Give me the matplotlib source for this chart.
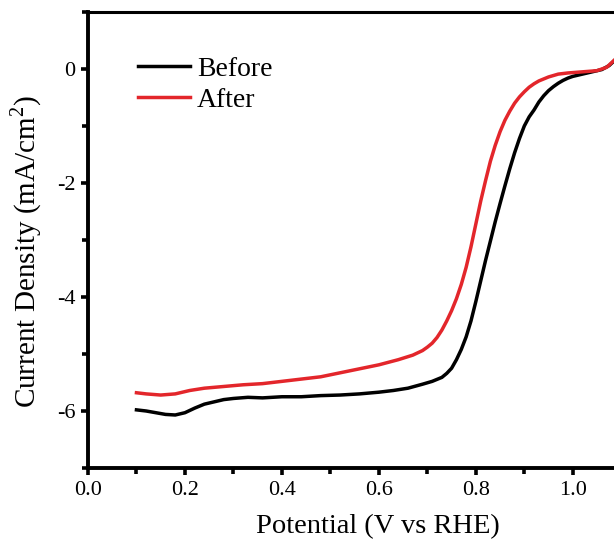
import matplotlib
matplotlib.use("Agg")
import matplotlib.pyplot as plt
from matplotlib.ticker import MultipleLocator

plt.rcParams['font.family'] = ['Liberation Serif', 'DejaVu Serif']
plt.rcParams['mathtext.fontset'] = 'custom'
plt.rcParams['mathtext.rm'] = 'Liberation Serif'

# LSV data
before_x = [0.10, 0.12, 0.14, 0.16, 0.18, 0.20, 0.22, 0.24, 0.26, 0.28, 0.30, 0.33,
            0.36, 0.40, 0.44, 0.48, 0.52, 0.56, 0.60, 0.63, 0.66, 0.69, 0.71, 0.73,
            0.74, 0.75, 0.76, 0.77, 0.78, 0.79, 0.80, 0.81, 0.82, 0.83, 0.84, 0.85,
            0.86, 0.87, 0.88, 0.89, 0.90, 0.91, 0.92, 0.93, 0.94, 0.95, 0.96, 0.97,
            0.98, 0.99, 1.00, 1.02, 1.04, 1.06, 1.075, 1.085]
before_y = [-5.98, -6.00, -6.03, -6.06, -6.07, -6.03, -5.95, -5.88, -5.84, -5.80, -5.78, -5.76,
            -5.77, -5.75, -5.75, -5.73, -5.72, -5.70, -5.67, -5.64, -5.60, -5.53, -5.48, -5.41,
            -5.34, -5.25, -5.10, -4.92, -4.70, -4.42, -4.08, -3.72, -3.36, -3.02, -2.68, -2.36,
            -2.05, -1.75, -1.47, -1.22, -1.00, -0.84, -0.72, -0.58, -0.47, -0.38, -0.31, -0.25,
            -0.20, -0.16, -0.13, -0.09, -0.05, -0.01, 0.06, 0.14]

after_x = [0.10, 0.12, 0.15, 0.18, 0.21, 0.24, 0.28, 0.32, 0.36, 0.40, 0.44, 0.48,
           0.52, 0.56, 0.60, 0.64, 0.67, 0.69, 0.70, 0.71, 0.72, 0.73, 0.74, 0.75,
           0.76, 0.77, 0.78, 0.79, 0.80, 0.81, 0.82, 0.83, 0.84, 0.85, 0.86, 0.87,
           0.88, 0.89, 0.90, 0.91, 0.92, 0.93, 0.95, 0.97, 0.99, 1.02, 1.05, 1.07,
           1.085]
after_y = [-5.68, -5.70, -5.72, -5.70, -5.64, -5.60, -5.57, -5.54, -5.52, -5.48, -5.44, -5.40,
           -5.33, -5.26, -5.19, -5.10, -5.02, -4.94, -4.88, -4.81, -4.71, -4.58, -4.42, -4.24,
           -4.03, -3.78, -3.48, -3.12, -2.72, -2.32, -1.96, -1.62, -1.34, -1.10, -0.90, -0.74,
           -0.60, -0.49, -0.40, -0.32, -0.26, -0.21, -0.14, -0.09, -0.07, -0.05, -0.03, 0.03,
           0.15]

fig = plt.figure(figsize=(6.14, 5.44), dpi=100)
ax = fig.add_axes([0.1433, 0.1397, 0.8567, 0.8383])

ax.plot(before_x, before_y, color='black', lw=2.5, label='Before')
ax.plot(after_x, after_y, color='#e3262b', lw=2.5, label='After')

ax.set_xlim(0.0, 1.085)
ax.set_ylim(-7, 1)
ax.xaxis.set_major_locator(MultipleLocator(0.2))
ax.xaxis.set_minor_locator(MultipleLocator(0.1))
ax.yaxis.set_minor_locator(MultipleLocator(1))
ax.set_yticks([0, -2, -4, -6])
ax.set_yticklabels(['0', '-2', '-4', '-6'])

for s in ['left', 'bottom']:
    ax.spines[s].set_linewidth(2.8)
ax.spines['top'].set_linewidth(2.2)
ax.spines['right'].set_visible(False)
ax.tick_params(which='both', direction='out', width=2.6, labelsize=16, top=False, right=False)
ax.tick_params(which='major', length=5, pad=4)
ax.tick_params(which='minor', length=4)

ax.set_xlabel('Potential (V vs RHE)', fontsize=20.5, va='center')
ax.xaxis.set_label_coords(0.551, -0.129)
ax.set_ylabel('Current Density (mA/cm$^2$)', fontsize=21, va='center')
ax.yaxis.set_label_coords(-0.118, 0.474)

ax.legend(loc='upper left', bbox_to_anchor=(0.095, 0.902), frameon=False, fontsize=20,
          handlelength=1.87, handletextpad=0.25, labelspacing=0.2, borderaxespad=0,
          borderpad=0)

fig.savefig('out.png', dpi=100)
